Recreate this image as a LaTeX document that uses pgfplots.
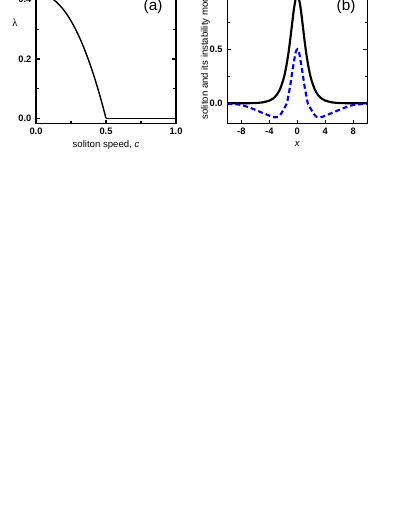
\documentclass[border=0pt]{standalone}
\usepackage{pgfplots}
\pgfplotsset{compat=1.18}
\usepackage{fontspec}
\setmainfont{Liberation Sans}
\newfontfamily\seriffont{Liberation Serif}
\begin{document}
\begin{tikzpicture}
\useasboundingbox (0,0) rectangle (296.25pt,-383.25pt);
\clip (0,0) rectangle (296.25pt,-383.25pt);
\pgfplotsset{
  every axis/.append style={
    scale only axis, width=105pt, height=101.25pt,
    anchor=south west,
    axis line style={line width=0.9pt},
    tick align=inside, tick style={line width=0.8pt, black},
    major tick length=3pt, minor tick length=2pt,
    /pgf/number format/assume math mode=true,
    tick label style={font=\fontsize{7}{8}\selectfont\bfseries},
    label style={font=\fontsize{7.2}{8.5}\selectfont},
  }
}
% Panel (a)
\begin{axis}[
  at={(27pt,-92.625pt)},
  xmin=0, xmax=1, ymin=-0.0175, ymax=0.4378,
  xtick={0,0.5,1}, minor xtick={0.25,0.75},
  ytick={0,0.2,0.4}, minor ytick={0.1,0.3},
  xticklabel style={/pgf/number format/.cd, fixed, fixed zerofill, precision=1},
  yticklabel style={/pgf/number format/.cd, fixed, fixed zerofill, precision=1},
  xlabel={soliton speed, \textit{c}},
  xlabel style={at={(axis description cs:0.5,-0.16)}, anchor=center},
  ylabel={\seriffont\fontsize{8}{9}\selectfont λ},
  ylabel style={at={(axis description cs:-0.15,0.744)}, anchor=center, rotate=-90},
]
\addplot[black, line width=1.05pt, smooth] coordinates {
(0,0.42) (0.025,0.4194) (0.05,0.4174) (0.075,0.4135) (0.1,0.4078) (0.125,0.4003)
(0.15,0.3903) (0.175,0.3783) (0.2,0.3641) (0.225,0.3475) (0.25,0.3286)
(0.275,0.3073) (0.3,0.2835) (0.325,0.2572) (0.35,0.2283) (0.375,0.1969)
(0.4,0.1630) (0.425,0.1263) (0.45,0.0869) (0.475,0.0448) (0.5,0)
};
\addplot[black, line width=1.05pt] coordinates {(0.5,0) (1,0)};
\node[font=\fontsize{11.5}{13}\selectfont] at (axis description cs:0.836,0.867) {(a)};
\end{axis}
% Panel (b)
\begin{axis}[
  at={(170.5pt,-92.625pt)},
  xmin=-10, xmax=10, ymin=-0.187, ymax=1.063,
  xtick={-8,-4,0,4,8},
  ytick={0,0.5,1}, minor ytick={0.25,0.75},
  yticklabel style={/pgf/number format/.cd, fixed, fixed zerofill, precision=1},
  xlabel={\textit{x}},
  xlabel style={at={(axis description cs:0.5,-0.15)}, anchor=center},
  ylabel={soliton and its instability mode},
  ylabel style={at={(axis description cs:-0.156,-0.004)}, anchor=west},
]
\addplot[black, line width=1.6pt, smooth] coordinates {
(-10,0) (-8,0.0003) (-7,0.0009) (-6,0.0027) (-5,0.0082) (-4,0.0246) (-3.5,0.0426)
(-3,0.0737) (-2.5,0.127) (-2,0.219) (-1.75,0.286) (-1.5,0.371) (-1.25,0.474)
(-1,0.599) (-0.75,0.735) (-0.5,0.866) (-0.25,0.963) (0,1)
(0.25,0.963) (0.5,0.866) (0.75,0.735) (1,0.599) (1.25,0.474) (1.5,0.371)
(1.75,0.286) (2,0.219) (2.5,0.127) (3,0.0737) (3.5,0.0426) (4,0.0246)
(5,0.0082) (6,0.0027) (7,0.0009) (8,0.0003) (10,0)
};
\addplot[blue, line width=1.6pt, dash pattern=on 3.75pt off 2.25pt, smooth] coordinates {
(-10,-0.003) (-9,-0.008) (-8,-0.015) (-7,-0.035) (-6,-0.06) (-5,-0.088) (-4,-0.114)
(-3.6,-0.125) (-3.2,-0.13) (-2.75,-0.125) (-2.5,-0.11) (-2.25,-0.09) (-2,-0.06)
(-1.75,-0.033) (-1.5,0) (-1.25,0.08) (-1,0.17) (-0.75,0.28) (-0.5,0.38) (-0.25,0.47) (0,0.5)
(0.25,0.47) (0.5,0.38) (0.75,0.28) (1,0.17) (1.25,0.08) (1.5,0) (1.75,-0.033)
(2,-0.06) (2.25,-0.09) (2.5,-0.11) (2.75,-0.125) (3.2,-0.13) (3.6,-0.125) (4,-0.114)
(5,-0.088) (6,-0.06) (7,-0.035) (8,-0.015) (9,-0.008) (10,-0.003)
};
\node[font=\fontsize{11.5}{13}\selectfont] at (axis description cs:0.848,0.867) {(b)};
\end{axis}
\end{tikzpicture}
\end{document}
